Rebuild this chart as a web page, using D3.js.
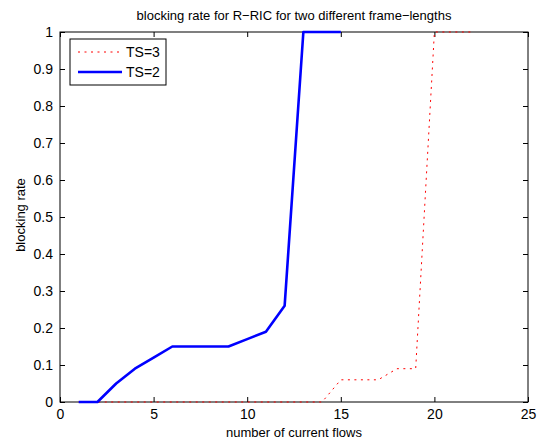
<!DOCTYPE html>
<html>
<head>
<meta charset="utf-8">
<script src="https://cdn.jsdelivr.net/npm/d3@7"></script>
<style>
  body { margin: 0; background: #fff; }
  svg text { font-family: "Liberation Sans", Arial, sans-serif; fill: #000; }
</style>
</head>
<body>
<div id="chart"></div>
<script>
// Data
const flowsTS2 = [1, 2, 3, 4, 5, 6, 7, 8, 9, 10, 11, 12, 13, 14, 15];
const rateTS2 = [0, 0, 0.05, 0.09, 0.12, 0.15, 0.15, 0.15, 0.15, 0.17, 0.19, 0.26, 1, 1, 1];
const flowsTS3 = [1, 2, 3, 4, 5, 6, 7, 8, 9, 10, 11, 12, 13, 14, 15, 16, 17, 18, 19, 20, 21, 22];
const rateTS3 = [0, 0, 0, 0, 0, 0, 0, 0, 0, 0, 0, 0, 0, 0, 0.06, 0.06, 0.06, 0.09, 0.09, 1, 1, 1];
const xTicks = [0, 5, 10, 15, 20, 25];
const yTicks = [0, 0.1, 0.2, 0.3, 0.4, 0.5, 0.6, 0.7, 0.8, 0.9, 1];

const WIDTH = 539, HEIGHT = 445;
const MARGIN = { left: 60, right: 11, top: 32, bottom: 43 };
const CHART_WIDTH = WIDTH - MARGIN.left - MARGIN.right;
const CHART_HEIGHT = HEIGHT - MARGIN.top - MARGIN.bottom;

const svg = d3.select('#chart').append('svg')
    .attr('width', WIDTH)
    .attr('height', HEIGHT);

const g = svg.append('g')
    .attr('transform', `translate(${MARGIN.left}, ${MARGIN.top})`);

const xScale = d3.scaleLinear().domain([0, 25]).range([0, CHART_WIDTH]);
const yScale = d3.scaleLinear().domain([0, 1]).range([CHART_HEIGHT, 0]);

// box
g.append('rect')
    .attr('width', CHART_WIDTH)
    .attr('height', CHART_HEIGHT)
    .attr('fill', 'none')
    .attr('stroke', '#000')
    .attr('stroke-width', 1);

// axes with inward ticks (MATLAB style)
const fmt = d => d3.format('')(d);
const styleAxis = sel => {
  sel.select('.domain').remove();
  sel.selectAll('text').style('font-size', '14px');
  sel.selectAll('line').attr('stroke', '#000');
};

g.append('g')
    .attr('transform', `translate(0, ${CHART_HEIGHT})`)
    .call(d3.axisBottom(xScale).tickValues(xTicks).tickFormat(fmt).tickSizeInner(-5).tickPadding(7))
    .call(styleAxis);
g.append('g')
    .call(d3.axisTop(xScale).tickValues(xTicks).tickFormat('').tickSizeInner(-5))
    .call(styleAxis);
g.append('g')
    .call(d3.axisLeft(yScale).tickValues(yTicks).tickFormat(fmt).tickSizeInner(-5).tickPadding(7))
    .call(styleAxis);
g.append('g')
    .attr('transform', `translate(${CHART_WIDTH}, 0)`)
    .call(d3.axisRight(yScale).tickValues(yTicks).tickFormat('').tickSizeInner(-5))
    .call(styleAxis);

// lines
const line = d3.line()
    .x(d => xScale(d[0]))
    .y(d => yScale(d[1]));

g.append('path')
    .datum(d3.zip(flowsTS3, rateTS3))
    .attr('d', line)
    .attr('fill', 'none')
    .attr('stroke', '#ff0000')
    .attr('stroke-width', 1)
    .attr('stroke-dasharray', '2,4.5');

g.append('path')
    .datum(d3.zip(flowsTS2, rateTS2))
    .attr('d', line)
    .attr('fill', 'none')
    .attr('stroke', '#0000ff')
    .attr('stroke-width', 2.6)
    .attr('stroke-linejoin', 'round');

// legend
const legend = g.append('g').attr('transform', 'translate(10, 7)');
legend.append('rect')
    .attr('width', 96)
    .attr('height', 46)
    .attr('fill', '#fff')
    .attr('stroke', '#000');
const legendItems = [
  { label: 'TS=3', color: '#ff0000', width: 1, dash: '2,4.5' },
  { label: 'TS=2', color: '#0000ff', width: 2.6, dash: null }
];
legendItems.forEach((item, i) => {
  const y = 13 + i * 20;
  legend.append('line')
      .attr('x1', 8).attr('x2', 52)
      .attr('y1', y).attr('y2', y)
      .attr('stroke', item.color)
      .attr('stroke-width', item.width)
      .attr('stroke-dasharray', item.dash);
  legend.append('text')
      .attr('x', 56).attr('y', y)
      .attr('dy', '0.36em')
      .style('font-size', '14px')
      .text(item.label);
});

// title and axis labels
svg.append('text')
    .attr('x', MARGIN.left + CHART_WIDTH / 2)
    .attr('y', 20)
    .attr('text-anchor', 'middle')
    .style('font-size', '13px')
    .text('blocking rate for R\u2212RIC for two different frame\u2212lengths');

svg.append('text')
    .attr('x', MARGIN.left + CHART_WIDTH / 2)
    .attr('y', 437)
    .attr('text-anchor', 'middle')
    .style('font-size', '13px')
    .text('number of current flows');

svg.append('text')
    .attr('transform', 'translate(25, 215) rotate(-90)')
    .attr('text-anchor', 'middle')
    .style('font-size', '13px')
    .text('blocking rate');
</script>
</body>
</html>
